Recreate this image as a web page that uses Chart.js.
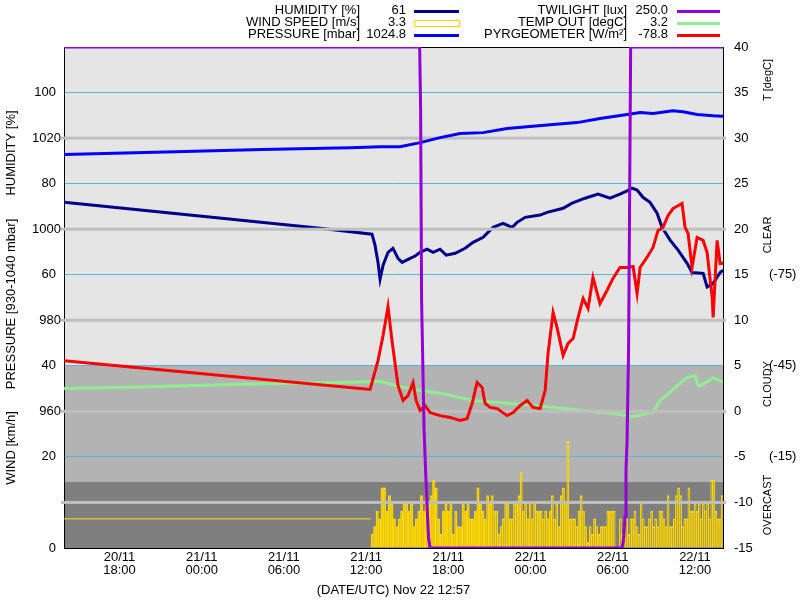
<!DOCTYPE html>
<html>
<head>
<meta charset="utf-8">
<script src="https://cdn.jsdelivr.net/npm/chart.js@4.4.1/dist/chart.umd.min.js"></script>
<style>
  html, body { margin: 0; padding: 0; background: #fff; }
  canvas { display: block; }
</style>
</head>
<body>
<canvas id="meteo" width="800" height="600"></canvas>
<script>
// times are hours since 20/11 00:00 UTC
const timeTicks = [18, 24, 30, 36, 42, 48, 54, 60];
const timeTickLabels = [
  ['20/11', '18:00'], ['21/11', '00:00'], ['21/11', '06:00'], ['21/11', '12:00'],
  ['21/11', '18:00'], ['22/11', '00:00'], ['22/11', '06:00'], ['22/11', '12:00']
];
const humidityTicks = [0, 20, 40, 60, 80, 100];
const pressureTicks = [960, 980, 1000, 1020];
const pressureLines = [940, 960, 980, 1000, 1020];
const tempTicks = [-15, -10, -5, 0, 5, 10, 15, 20, 25, 30, 35, 40];
const pyrTicks = [-75, -45, -15];

const legendNames = ['HUMIDITY [%]', 'WIND SPEED [m/s]', 'PRESSURE [mbar]',
  'TWILIGHT [lux]', 'TEMP OUT [degC]', 'PYRGEOMETER [W/m²]'];
const legendValues = ['61', '3.3', '1024.8', '250.0', '3.2', '-78.8'];
const xTitle = '(DATE/UTC) Nov 22 12:57';

// humidity [%]
const humidityTimes = [13.96, 32.64, 36.43, 36.65, 36.87, 37.02, 37.24, 37.60, 37.96, 38.33, 38.63, 39.21, 39.58,
  39.94, 40.45, 40.89, 41.40, 41.84, 42.50, 43.23, 43.81, 44.54, 45.27, 46.00, 46.66, 47.02, 47.61, 48.70, 49.21,
  50.38, 51.04, 51.98, 52.93, 53.80, 54.53, 55.05, 55.41, 55.78, 56.21, 56.72, 57.24, 57.60, 58.19, 58.77, 59.43,
  59.79, 60.60, 60.89, 61.33, 61.84, 62.06];
const humidityValues = [75.9, 70.2, 68.9, 66.5, 62.7, 59.0, 62.1, 64.9, 65.8, 63.6, 62.7, 63.6, 64.1,
  64.9, 65.6, 64.9, 65.6, 64.3, 64.7, 65.8, 67.1, 68.2, 70.4, 71.3, 70.4, 71.5, 72.6, 73.1, 73.7,
  74.6, 75.7, 76.8, 77.7, 76.8, 77.7, 78.4, 79.0, 78.6, 77.0, 75.9, 73.5, 70.4, 67.6, 65.4, 62.5,
  60.5, 60.3, 57.3, 58.1, 60.5, 61.0];

// pressure [mbar]
const pressureTimes = [13.96, 22.05, 28.41, 34.83, 37.02, 38.48, 39.94, 41.40, 42.86, 44.54, 46.29, 47.75,
  49.65, 51.40, 53.07, 55.05, 56.00, 56.94, 58.40, 59.14, 60.16, 61.33, 62.06];
const pressureValues = [1016.4, 1017.0, 1017.5, 1017.9, 1018.1, 1018.1, 1019.0, 1020.1, 1021.0, 1021.2, 1022.1, 1022.5,
  1023.0, 1023.4, 1024.3, 1025.2, 1025.6, 1025.4, 1026.0, 1025.8, 1025.2, 1024.9, 1024.8];

// temp out [degC]
const tempTimes = [13.96, 20.23, 27.53, 34.83, 37.02, 38.48, 39.94, 41.40, 43.81, 46.29, 48.70, 51.11, 52.86,
  54.02, 55.49, 56.94, 57.45, 58.19, 58.92, 59.43, 60.01, 60.24, 60.89, 61.33, 62.06];
const tempValues = [2.5, 2.7, 3.0, 3.2, 3.3, 2.7, 2.3, 2.0, 1.2, 0.9, 0.6, 0.2, -0.1,
  -0.2, -0.6, -0.1, 1.2, 2.1, 3.1, 3.7, 3.9, 2.8, 3.2, 3.7, 3.2];

// pyrgeometer [W/m2]
const pyrTimes = [13.96, 36.29, 36.87, 37.24, 37.60, 37.89, 38.33, 38.70, 39.06, 39.43, 39.65, 39.94, 40.31,
  40.67, 41.40, 42.13, 42.86, 43.37, 43.74, 44.10, 44.47, 44.69, 45.05, 45.56, 46.29, 46.73, 47.24, 47.75,
  48.19, 48.70, 49.07, 49.28, 49.65, 49.94, 50.38, 50.74, 51.11, 51.47, 51.84, 52.20, 52.56, 53.07, 53.58,
  54.02, 54.53, 55.05, 55.49, 55.78, 56.00, 56.50, 56.94, 57.31, 57.67, 58.04, 58.40, 59.06, 59.28, 59.50,
  59.79, 60.16, 60.60, 60.89, 61.26, 61.33, 61.62, 61.84, 62.06];
const pyrValues = [-46.7, -37.2, -46.7, -55.0, -64.5, -53.3, -38.5, -33.6, -35.2, -39.5, -33.6, -30.3, -31.9,
  -29.6, -28.6, -28.0, -27.0, -27.6, -32.6, -39.5, -37.9, -32.6, -31.3, -30.9, -28.6, -29.6, -31.9, -33.6,
  -31.3, -30.9, -36.9, -49.1, -62.6, -57.6, -48.4, -52.4, -54.0, -60.9, -67.2, -63.9, -74.1, -65.5, -69.8,
  -73.8, -77.4, -77.4, -77.7, -68.8, -77.4, -80.7, -84.0, -89.6, -90.6, -94.5, -96.8, -98.5, -90.6, -88.6,
  -77.4, -87.3, -86.3, -82.3, -67.5, -60.9, -86.3, -78.7, -78.8];

// twilight [lux]
const twilightTimes = [13.96, 39.91, 39.98, 40.05, 40.23, 40.34, 40.45, 40.56, 40.67,
  54.68, 54.79, 54.90, 54.97, 55.05, 55.16, 55.23, 55.31, 62.06];
const twilightValues = [250, 250, 219, 124, 59, 39, 21, 5, 0,
  0, 4, 16, 39, 54, 100, 169, 250, 250];

// wind [km/h]
const windOldTimes = [13.95, 36.36];
const windOldValues = [6.4, 6.4];
const windSegmentTimes = [36.36, 44.97, 53.73, 62.06];
const windA = [3.0, 4.7, 8.1, 6.4, 13.2, 13.2, 8.1, 11.5, 9.8, 6.4,
  4.7, 6.4, 8.1, 9.8, 9.8, 8.1, 9.8, 4.7, 6.4, 8.1,
  11.5, 8.1, 13.2, 9.8, 11.5, 14.9, 13.2, 6.4, 3.0, 8.1,
  9.8, 8.1, 9.8, 3.0, 8.1, 4.7, 4.7, 9.8, 8.1, 9.8,
  6.4, 6.4, 8.1, 13.2, 9.8, 8.1, 6.4, 11.5];
const windB = [9.8, 11.5, 8.1, 8.1, 3.0, 4.7, 6.4, 9.8, 9.8, 6.4,
  6.4, 9.8, 9.8, 11.5, 16.6, 8.1, 9.8, 6.4, 9.8, 6.4,
  9.8, 8.1, 8.1, 8.1, 6.4, 8.1, 6.4, 8.1, 11.5, 6.4,
  9.8, 4.7, 11.5, 13.2, 9.8, 23.4, 6.4, 6.4, 6.4, 4.7,
  8.1, 11.5, 8.1, 4.7, 1.3, 4.7, 3.0, 6.4, 4.7, 3.0,
  4.7, 4.7, 4.7, 8.1];
const windC = [8.1, 8.1, 8.1, 0, 0, 6.4, 3.0, 6.4, 6.4, 3.0,
  6.4, 6.4, 8.1, 4.7, 3.0, 9.8, 6.4, 4.7, 4.7, 6.4,
  8.1, 4.7, 6.4, 4.7, 8.1, 8.1, 6.4, 4.7, 11.5, 4.7,
  4.7, 6.4, 11.5, 13.2, 11.5, 4.7, 6.4, 6.4, 13.2, 8.1,
  8.1, 9.8, 8.1, 9.8, 6.4, 9.8, 8.1, 9.8, 6.4, 14.9,
  14.9, 8.1, 6.4, 6.4, 11.5];

const FONT = "'Liberation Sans', Arial, sans-serif";

function pts(times, values) {
  return times.map((t, i) => ({ x: t, y: values[i] }));
}

function windPoints() {
  const out = [];
  [windA, windB, windC].forEach((vals, k) => {
    const t0 = windSegmentTimes[k];
    const step = (windSegmentTimes[k + 1] - t0) / vals.length;
    vals.forEach((v, i) => out.push({ x: t0 + (i + 0.5) * step, y: v }));
  });
  return out;
}

function rotText(ctx, text, x, y) {
  ctx.save();
  ctx.translate(x, y);
  ctx.rotate(-Math.PI / 2);
  ctx.fillText(text, 0, 0);
  ctx.restore();
}

// bands, frame, grey pressure lines, extra labels and legend
const meteoPlugin = {
  id: 'meteo',
  beforeDraw(chart) {
    const { ctx, chartArea: a, scales } = chart;
    ctx.save();
    ctx.fillStyle = '#fff';
    ctx.fillRect(0, 0, chart.width, chart.height);
    const y1 = Math.round(scales.yT.getPixelForValue(5));
    const y2 = Math.round(scales.yT.getPixelForValue(-7.7));
    ctx.fillStyle = '#e5e5e5';
    ctx.fillRect(a.left, a.top, a.width, y1 - a.top);
    ctx.fillStyle = '#b3b3b3';
    ctx.fillRect(a.left, y1, a.width, y2 - y1);
    ctx.fillStyle = '#7f7f7f';
    ctx.fillRect(a.left, y2, a.width, a.bottom - y2);
    ctx.restore();
  },
  beforeDatasetsDraw(chart) {
    const { ctx, chartArea: a } = chart;
    ctx.save();
    ctx.strokeStyle = '#000';
    ctx.lineWidth = 1;
    ctx.strokeRect(a.left + 0.5, a.top + 0.5, a.width, a.height);
    ctx.restore();
  },
  afterDatasetDraw(chart, args) {
    // grey pressure lines go over wind, humidity and temperature
    if (args.index !== 3) return;
    const { ctx, chartArea: a, scales } = chart;
    ctx.save();
    ctx.fillStyle = '#bfbfbf';
    pressureLines.forEach(v => {
      const y = scales.yPres.getPixelForValue(v);
      ctx.fillRect(a.left - 3, y - 1.5, a.width + 6, 3);
    });
    ctx.restore();
  },
  afterDraw(chart) {
    const { ctx, chartArea: a, scales } = chart;
    ctx.save();
    ctx.fillStyle = '#000';
    ctx.textBaseline = 'middle';

    // pressure tick labels
    ctx.font = '13px ' + FONT;
    ctx.textAlign = 'right';
    pressureTicks.forEach(v => {
      ctx.fillText(String(v), a.left - 3, scales.yPres.getPixelForValue(v));
    });

    // pyrgeometer labels
    ctx.textAlign = 'left';
    pyrTicks.forEach(v => {
      ctx.fillText('(' + v + ')', 769, scales.yP.getPixelForValue(v));
    });

    // left axis titles
    ctx.textAlign = 'center';
    rotText(ctx, 'HUMIDITY [%]', 11, 153);
    rotText(ctx, 'PRESSURE [930-1040 mbar]', 11, 304);
    rotText(ctx, 'WIND [km/h]', 11, 448);

    // right axis titles
    ctx.font = '11px ' + FONT;
    rotText(ctx, 'T [degC]', 768, 80);
    rotText(ctx, 'CLEAR', 768, 235);
    rotText(ctx, 'CLOUDY', 768, 384);
    rotText(ctx, 'OVERCAST', 768, 505);

    // legend
    const colors = ['#00008b', '#ffd700', '#0000ff', '#9400d3', '#90ee90', '#ff0000'];
    const cols = [
      { text: 360, val: 406, s0: 414, s1: 459 },
      { text: 627, val: 668, s0: 677, s1: 720 }
    ];
    const rowY = [10.5, 22.5, 34.5];
    ctx.font = '13px ' + FONT;
    legendNames.forEach((name, i) => {
      const c = cols[Math.floor(i / 3)];
      const y = rowY[i % 3];
      ctx.fillStyle = '#000';
      ctx.textAlign = 'right';
      ctx.fillText(name, c.text, y);
      ctx.fillText(legendValues[i], c.val, y);
      if (i === 1) {
        ctx.strokeStyle = colors[i];
        ctx.lineWidth = 1;
        ctx.strokeRect(c.s0 + 0.5, 20.5, c.s1 - c.s0, 6);
      } else {
        ctx.fillStyle = colors[i];
        ctx.fillRect(c.s0, Math.round(y) - 1, c.s1 - c.s0, 3);
      }
    });
    ctx.restore();
  }
};

const tickFont = { family: FONT, size: 13 };

const chart = new Chart(document.getElementById('meteo'), {
  type: 'line',
  data: {
    datasets: [
      {
        label: 'TWILIGHT', data: pts(twilightTimes, twilightValues), yAxisID: 'yTw',
        borderColor: '#9400d3', borderWidth: 3, pointRadius: 0, order: 1
      },
      {
        label: 'PYRGEOMETER', data: pts(pyrTimes, pyrValues), yAxisID: 'yP',
        borderColor: '#ff0000', borderWidth: 3, pointRadius: 0, order: 2
      },
      {
        label: 'PRESSURE', data: pts(pressureTimes, pressureValues), yAxisID: 'yPres',
        borderColor: '#0000ff', borderWidth: 3, pointRadius: 0, order: 3
      },
      {
        label: 'TEMP OUT', data: pts(tempTimes, tempValues), yAxisID: 'yT',
        borderColor: '#90ee90', borderWidth: 3, pointRadius: 0, order: 4
      },
      {
        label: 'HUMIDITY', data: pts(humidityTimes, humidityValues), yAxisID: 'yH',
        borderColor: '#00008b', borderWidth: 3, pointRadius: 0, order: 5
      },
      {
        label: 'WIND old', data: pts(windOldTimes, windOldValues), yAxisID: 'yH',
        borderColor: '#ffd700', borderWidth: 1, pointRadius: 0, order: 6
      },
      {
        type: 'bar', label: 'WIND SPEED', data: windPoints(), xAxisID: 'x', yAxisID: 'yH',
        borderColor: '#ffd700', backgroundColor: 'rgba(0,0,0,0)', borderWidth: 1,
        barThickness: 'flex', barPercentage: 1, categoryPercentage: 1, order: 7
      }
    ]
  },
  options: {
    responsive: false,
    animation: false,
    devicePixelRatio: 1,
    events: [],
    layout: { padding: { top: 47, left: 0, right: 0, bottom: 0 } },
    elements: { line: { tension: 0 } },
    plugins: { legend: { display: false }, tooltip: { enabled: false }, title: { display: false } },
    scales: {
      x: {
        type: 'linear', min: 13.95, max: 62.05, offset: false,
        afterBuildTicks: s => { s.ticks = timeTicks.map(v => ({ value: v })); },
        afterFit: s => { s.height = 52; },
        grid: { display: false, drawTicks: false, offset: false },
        border: { display: false },
        ticks: {
          autoSkip: false, maxRotation: 0, minRotation: 0, padding: 3, color: '#000',
          font: { family: FONT, size: 13, lineHeight: 1.0 },
          callback: (v, i) => timeTickLabels[i]
        },
        title: {
          display: true, text: xTitle, color: '#000',
          font: { family: FONT, size: 13 }, padding: { top: 0, bottom: 2 }
        }
      },
      yH: {
        position: 'left', min: 0, max: 110,
        afterBuildTicks: s => { s.ticks = humidityTicks.map(v => ({ value: v })); },
        afterFit: s => { s.width = 64; },
        grid: {
          color: c => (c.tick && c.tick.value === 0) ? 'rgba(0,0,0,0)' : '#56b4e9',
          lineWidth: 1, drawTicks: false
        },
        border: { display: false },
        ticks: { color: '#000', font: tickFont, padding: 8 }
      },
      yT: {
        position: 'right', min: -15, max: 40,
        afterBuildTicks: s => { s.ticks = tempTicks.map(v => ({ value: v })); },
        afterFit: s => { s.width = 77; },
        grid: { display: false, drawTicks: false },
        border: { display: false },
        ticks: { color: '#000', font: tickFont, padding: 11 }
      },
      yPres: { display: false, min: 930, max: 1040 },
      yP: { display: false, reverse: true, min: -150, max: 15 },
      yTw: { display: false, min: 0, max: 250 }
    }
  },
  plugins: [meteoPlugin]
});
</script>
</body>
</html>
